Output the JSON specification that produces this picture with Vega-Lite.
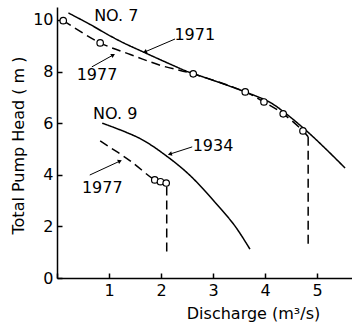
{
  "$schema": "https://vega.github.io/schema/vega-lite/v6.json",
  "width": 295,
  "height": 271,
  "autosize": "none",
  "padding": {"left": 57, "top": 7, "right": 0, "bottom": 46},
  "background": "white",
  "config": {
    "view": {"stroke": null},
    "font": "DejaVu Sans",
    "axis": {
      "grid": false,
      "domainColor": "#000",
      "domainWidth": 1.5,
      "tickColor": "#000",
      "tickWidth": 1.5,
      "tickSize": -5,
      "labelColor": "#000",
      "labelFont": "DejaVu Sans",
      "labelFontSize": 16,
      "titleColor": "#000",
      "titleFont": "DejaVu Sans",
      "titleFontSize": 16,
      "titleFontWeight": "normal"
    }
  },
  "datasets": {
    "curves": [
      {"series": "NO7-1971", "kind": "solid", "i": 1, "q": 0.22, "h": 10.27},
      {"series": "NO7-1971", "kind": "solid", "i": 2, "q": 0.64, "h": 9.82},
      {"series": "NO7-1971", "kind": "solid", "i": 3, "q": 0.96, "h": 9.45},
      {"series": "NO7-1971", "kind": "solid", "i": 4, "q": 1.28, "h": 9.11},
      {"series": "NO7-1971", "kind": "solid", "i": 5, "q": 1.70, "h": 8.72},
      {"series": "NO7-1971", "kind": "solid", "i": 6, "q": 2.05, "h": 8.40},
      {"series": "NO7-1971", "kind": "solid", "i": 7, "q": 2.47, "h": 8.03},
      {"series": "NO7-1971", "kind": "solid", "i": 8, "q": 2.62, "h": 7.92},
      {"series": "NO7-1971", "kind": "solid", "i": 9, "q": 3.00, "h": 7.66},
      {"series": "NO7-1971", "kind": "solid", "i": 10, "q": 3.62, "h": 7.21},
      {"series": "NO7-1971", "kind": "solid", "i": 11, "q": 4.10, "h": 6.80},
      {"series": "NO7-1971", "kind": "solid", "i": 12, "q": 4.42, "h": 6.34},
      {"series": "NO7-1971", "kind": "solid", "i": 13, "q": 4.81, "h": 5.68},
      {"series": "NO7-1971", "kind": "solid", "i": 14, "q": 5.19, "h": 4.96},
      {"series": "NO7-1971", "kind": "solid", "i": 15, "q": 5.54, "h": 4.26},
      {"series": "NO7-1977", "kind": "dashed", "i": 1, "q": 0.12, "h": 9.97},
      {"series": "NO7-1977", "kind": "dashed", "i": 2, "q": 0.83, "h": 9.11},
      {"series": "NO7-1977", "kind": "dashed", "i": 3, "q": 1.41, "h": 8.66},
      {"series": "NO7-1977", "kind": "dashed", "i": 4, "q": 1.99, "h": 8.24},
      {"series": "NO7-1977", "kind": "dashed", "i": 5, "q": 2.62, "h": 7.91},
      {"series": "NO7-1977", "kind": "dashed", "i": 6, "q": 3.62, "h": 7.21},
      {"series": "NO7-1977", "kind": "dashed", "i": 7, "q": 3.98, "h": 6.82},
      {"series": "NO7-1977", "kind": "dashed", "i": 8, "q": 4.35, "h": 6.36},
      {"series": "NO7-1977", "kind": "dashed", "i": 9, "q": 4.73, "h": 5.70},
      {"series": "NO7-1977", "kind": "dashed", "i": 10, "q": 4.83, "h": 5.47},
      {"series": "NO9-1934", "kind": "solid", "i": 1, "q": 0.87, "h": 6.0},
      {"series": "NO9-1934", "kind": "solid", "i": 2, "q": 1.60, "h": 5.40},
      {"series": "NO9-1934", "kind": "solid", "i": 3, "q": 2.13, "h": 4.69},
      {"series": "NO9-1934", "kind": "solid", "i": 4, "q": 2.56, "h": 3.97},
      {"series": "NO9-1934", "kind": "solid", "i": 5, "q": 3.04, "h": 2.93},
      {"series": "NO9-1934", "kind": "solid", "i": 6, "q": 3.42, "h": 2.02},
      {"series": "NO9-1934", "kind": "solid", "i": 7, "q": 3.71, "h": 1.12},
      {"series": "NO9-1977", "kind": "dashed", "i": 1, "q": 0.83, "h": 5.31},
      {"series": "NO9-1977", "kind": "dashed", "i": 2, "q": 1.40, "h": 4.55},
      {"series": "NO9-1977", "kind": "dashed", "i": 3, "q": 1.88, "h": 3.80},
      {"series": "NO9-1977", "kind": "dashed", "i": 4, "q": 1.99, "h": 3.73},
      {"series": "NO9-1977", "kind": "dashed", "i": 5, "q": 2.10, "h": 3.68}
    ],
    "drops": [
      {"series": "NO7", "i": 1, "q": 4.83, "h": 5.47},
      {"series": "NO7", "i": 2, "q": 4.83, "h": 1.16},
      {"series": "NO9", "i": 1, "q": 2.11, "h": 3.55},
      {"series": "NO9", "i": 2, "q": 2.11, "h": 0.97}
    ],
    "tests": [
      {"q": 0.12, "h": 9.97},
      {"q": 0.83, "h": 9.11},
      {"q": 2.62, "h": 7.91},
      {"q": 3.62, "h": 7.21},
      {"q": 3.98, "h": 6.82},
      {"q": 4.35, "h": 6.36},
      {"q": 4.73, "h": 5.70},
      {"q": 1.88, "h": 3.80},
      {"q": 1.99, "h": 3.73},
      {"q": 2.10, "h": 3.68}
    ],
    "labels": [
      {"text": "NO. 7", "q": 1.14, "h": 10.17},
      {"text": "1971", "q": 2.65, "h": 9.42},
      {"text": "1977", "q": 0.77, "h": 7.87},
      {"text": "NO. 9", "q": 1.12, "h": 6.36},
      {"text": "1934", "q": 3.0, "h": 5.12},
      {"text": "1977", "q": 0.87, "h": 3.49}
    ],
    "arrows": [
      {"q": 2.27, "h": 9.26, "q2": 1.69, "h2": 8.76, "dir": 246.6},
      {"q": 0.67, "h": 8.18, "q2": 1.08, "h2": 8.64, "dir": 60.3},
      {"q": 2.60, "h": 5.08, "q2": 2.17, "h2": 4.80, "dir": 254.7},
      {"q": 0.63, "h": 3.99, "q2": 1.21, "h2": 4.53, "dir": 65.0}
    ]
  },
  "layer": [
    {
      "data": {"name": "curves"},
      "mark": {"type": "line", "interpolate": "catmull-rom", "color": "#000", "strokeWidth": 1.5},
      "encoding": {
        "x": {
          "field": "q", "type": "quantitative",
          "scale": {"domain": [0, 5.673], "nice": false, "zero": false},
          "axis": {
            "values": [0, 1, 2, 3, 4, 5],
            "labelExpr": "datum.value == 0 ? '' : datum.label",
            "labelPadding": 9,
            "title": "Discharge  (m³/s)",
            "titleX": 196,
            "titleY": 35,
            "titleBaseline": "middle",
            "titleAnchor": null,
            "titleAlign": "center"
          }
        },
        "y": {
          "field": "h", "type": "quantitative",
          "scale": {"domain": [0, 10.5], "nice": false, "zero": false},
          "axis": {
            "values": [0, 2, 4, 6, 8, 10],
            "labelPadding": 9,
            "title": "Total Pump Head ( m )",
            "titleX": -39,
            "titleY": 138,
            "titleBaseline": "middle",
            "titleAnchor": null,
            "titleAlign": "center",
            "titleAngle": -90,
            "encode": {"labels": {"update": {"dy": {"signal": "datum.value == 0 ? 11 : 0"}}}}
          }
        },
        "detail": {"field": "series"},
        "order": {"field": "i"},
        "strokeDash": {
          "field": "kind", "type": "nominal",
          "scale": {"domain": ["solid", "dashed"], "range": [[1, 0], [9, 5]]},
          "legend": null
        }
      }
    },
    {
      "data": {"name": "drops"},
      "mark": {"type": "line", "color": "#000", "strokeWidth": 1.5, "strokeDash": [9, 5]},
      "encoding": {
        "x": {"field": "q", "type": "quantitative"},
        "y": {"field": "h", "type": "quantitative"},
        "detail": {"field": "series"},
        "order": {"field": "i"}
      }
    },
    {
      "data": {"name": "tests"},
      "mark": {"type": "point", "shape": "circle", "size": 42, "filled": true, "fill": "white", "stroke": "#000", "strokeWidth": 1.2, "opacity": 1},
      "encoding": {
        "x": {"field": "q", "type": "quantitative"},
        "y": {"field": "h", "type": "quantitative"}
      }
    },
    {
      "data": {"name": "arrows"},
      "mark": {"type": "rule", "color": "#000", "strokeWidth": 1},
      "encoding": {
        "x": {"field": "q", "type": "quantitative"},
        "y": {"field": "h", "type": "quantitative"},
        "x2": {"field": "q2"},
        "y2": {"field": "h2"}
      }
    },
    {
      "data": {"name": "arrows"},
      "mark": {"type": "point", "shape": "triangle-up", "size": 22, "filled": true, "color": "#000", "opacity": 1},
      "encoding": {
        "x": {"field": "q2", "type": "quantitative"},
        "y": {"field": "h2", "type": "quantitative"},
        "angle": {"field": "dir", "type": "quantitative", "scale": null}
      }
    },
    {
      "data": {"name": "labels"},
      "mark": {"type": "text", "font": "DejaVu Sans", "fontSize": 16, "color": "#000", "align": "center", "baseline": "middle"},
      "encoding": {
        "x": {"field": "q", "type": "quantitative"},
        "y": {"field": "h", "type": "quantitative"},
        "text": {"field": "text"}
      }
    }
  ]
}
